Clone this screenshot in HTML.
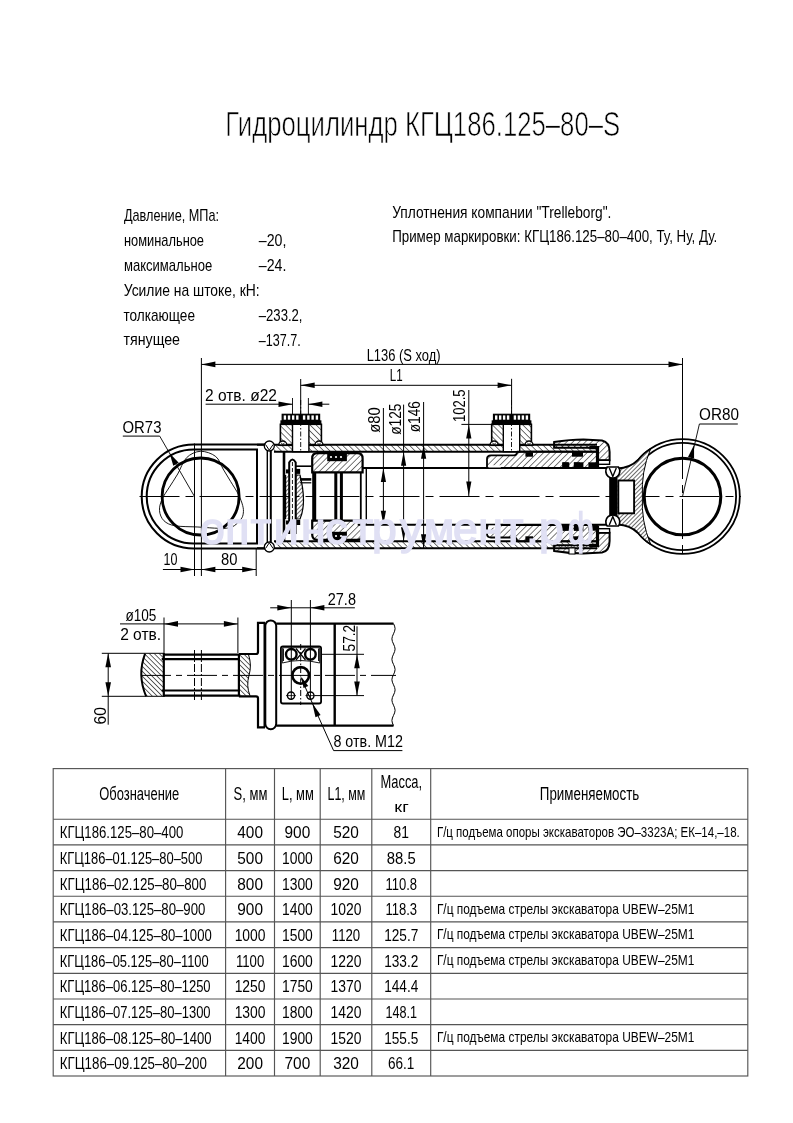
<!DOCTYPE html>
<html><head><meta charset="utf-8"><style>
html,body{margin:0;padding:0;background:#fff;}
svg{display:block;will-change:transform;}
text{font-family:"Liberation Sans", sans-serif;fill:#000;stroke:none;}
.wm text{fill:rgb(224,224,244);stroke:rgb(224,224,244);stroke-width:1.5px;}
</style></head><body>
<svg width="793" height="1123" viewBox="0 0 793 1123">
<g id="table">
<rect x="53.2" y="768.6" width="694.5999999999999" height="307.4" fill="none" stroke="#555" stroke-width="1.15"/>
<line x1="53.2" y1="819.2" x2="747.8" y2="819.2" stroke="#555" stroke-width="1.15"/>
<line x1="53.2" y1="844.9" x2="747.8" y2="844.9" stroke="#555" stroke-width="1.15"/>
<line x1="53.2" y1="870.6" x2="747.8" y2="870.6" stroke="#555" stroke-width="1.15"/>
<line x1="53.2" y1="896.2" x2="747.8" y2="896.2" stroke="#555" stroke-width="1.15"/>
<line x1="53.2" y1="921.9" x2="747.8" y2="921.9" stroke="#555" stroke-width="1.15"/>
<line x1="53.2" y1="947.6" x2="747.8" y2="947.6" stroke="#555" stroke-width="1.15"/>
<line x1="53.2" y1="973.3" x2="747.8" y2="973.3" stroke="#555" stroke-width="1.15"/>
<line x1="53.2" y1="999.0" x2="747.8" y2="999.0" stroke="#555" stroke-width="1.15"/>
<line x1="53.2" y1="1024.6" x2="747.8" y2="1024.6" stroke="#555" stroke-width="1.15"/>
<line x1="53.2" y1="1050.3" x2="747.8" y2="1050.3" stroke="#555" stroke-width="1.15"/>
<line x1="225.6" y1="768.6" x2="225.6" y2="1076.0" stroke="#555" stroke-width="1.15"/>
<line x1="274.5" y1="768.6" x2="274.5" y2="1076.0" stroke="#555" stroke-width="1.15"/>
<line x1="320.2" y1="768.6" x2="320.2" y2="1076.0" stroke="#555" stroke-width="1.15"/>
<line x1="371.8" y1="768.6" x2="371.8" y2="1076.0" stroke="#555" stroke-width="1.15"/>
<line x1="430.7" y1="768.6" x2="430.7" y2="1076.0" stroke="#555" stroke-width="1.15"/>
</g>
<g id="drawing">
<defs>
<pattern id="hb" patternUnits="userSpaceOnUse" width="4.3" height="4.3" patternTransform="rotate(-45)"><line x1="0" y1="0" x2="0" y2="4.3" stroke="#000" stroke-width="1.1"/></pattern>
<pattern id="hf" patternUnits="userSpaceOnUse" width="4.4" height="4.4" patternTransform="rotate(45)"><line x1="0" y1="0" x2="0" y2="4.4" stroke="#000" stroke-width="1.05"/></pattern>
<pattern id="hs" patternUnits="userSpaceOnUse" width="3" height="3" patternTransform="rotate(45)"><line x1="0" y1="0" x2="0" y2="3" stroke="#000" stroke-width="1.15"/></pattern>
<pattern id="hsb" patternUnits="userSpaceOnUse" width="3" height="3" patternTransform="rotate(-45)"><line x1="0" y1="0" x2="0" y2="3" stroke="#000" stroke-width="0.8"/></pattern>
<pattern id="hb5" patternUnits="userSpaceOnUse" width="3.5" height="3.5" patternTransform="rotate(-45)"><line x1="0" y1="0" x2="0" y2="3.5" stroke="#000" stroke-width="1.2"/></pattern>
</defs>
<line x1="139.5" y1="496.5" x2="741" y2="496.5" stroke="#000" stroke-width="1.0" stroke-dasharray="40,6,8,6"/>
<path d="M267,444.5 L193.7,444.5 A52,52 0 0 0 193.7,548.5 L267,548.5" fill="none" stroke="#000" stroke-width="2.0"/>
<path d="M257,449.5 L193.7,449.5 A47,47 0 0 0 193.7,543.5 L257,543.5 Z" fill="none" stroke="#000" stroke-width="2.0"/>
<circle cx="200.6" cy="496.5" r="38.5" fill="none" stroke="#000" stroke-width="2.8"/>
<path d="M200.4,451.3 C205.2,451.1 211.8,453.4 215.6,456.4 C219.4,459.3 220.6,464.8 223.1,469 C225.6,473.2 228.2,477.4 230.7,481.6 C233.2,485.8 236.3,490.2 238.3,494.2 C240.3,498.2 241.9,502.5 242.7,505.6 C243.5,508.8 243.6,510.8 243.3,513.1 C243.0,515.4 242.7,517.1 240.8,519.4 C238.9,521.7 235.6,525.5 232,527 C228.4,528.5 225.1,528.3 219.4,528.3 C213.7,528.3 205.3,527.4 197.9,527 C190.5,526.6 180.9,526.8 175.2,525.8 C169.5,524.8 166.5,523.2 163.9,520.7 C161.3,518.2 159.8,514.2 159.5,510.6 C159.2,507.0 160.4,503.1 162,499.3 C163.6,495.5 166.3,492.1 168.9,487.9 C171.5,483.7 174.8,479.0 177.7,474 C180.6,469.0 182.8,461.5 186.6,457.7 C190.4,453.9 195.6,451.5 200.4,451.3Z" fill="none" stroke="#000" stroke-width="0.9"/>
<line x1="194.5" y1="443.5" x2="194.5" y2="576" stroke="#000" stroke-width="1.0"/>
<line x1="201.4" y1="358" x2="201.4" y2="576" stroke="#000" stroke-width="1.0"/>
<line x1="122.8" y1="436.1" x2="159.7" y2="436.1" stroke="#000" stroke-width="1.0"/>
<line x1="159.7" y1="436.1" x2="194.5" y2="496.5" stroke="#000" stroke-width="0.9"/>
<path d="M169.5,453.0 L178.7,462.7 L173.3,465.8 Z" fill="#000"/>
<text x="122.54" y="433.3" font-size="16" textLength="38.9" lengthAdjust="spacingAndGlyphs">OR73</text>
<line x1="162.9" y1="569.5" x2="256" y2="569.5" stroke="#000" stroke-width="1.0"/>
<path d="M194.5,569.5 L180.5,572.3 L180.5,566.7 Z" fill="#000"/>
<path d="M201.4,569.5 L215.4,566.7 L215.4,572.3 Z" fill="#000"/>
<path d="M256.2,569.5 L242.2,572.3 L242.2,566.7 Z" fill="#000"/>
<line x1="256.2" y1="548" x2="256.2" y2="576" stroke="#000" stroke-width="1.0"/>
<text x="163.54" y="565.4" font-size="16" textLength="13.9" lengthAdjust="spacingAndGlyphs">10</text>
<text x="221.04" y="565.2" font-size="16" textLength="16.4" lengthAdjust="spacingAndGlyphs">80</text>
<rect x="274" y="444.7" width="323" height="7" fill="url(#hb)"/>
<rect x="274" y="541" width="323" height="7" fill="url(#hb)"/>
<line x1="257" y1="444.7" x2="597" y2="444.7" stroke="#000" stroke-width="2.0"/>
<line x1="274" y1="451.7" x2="597" y2="451.7" stroke="#000" stroke-width="2.0"/>
<line x1="274" y1="541.3" x2="597" y2="541.3" stroke="#000" stroke-width="2.0"/>
<line x1="257" y1="548.3" x2="597" y2="548.3" stroke="#000" stroke-width="2.0"/>
<line x1="267.3" y1="444.7" x2="267.3" y2="548.3" stroke="#000" stroke-width="1.4"/>
<line x1="270.8" y1="444.7" x2="270.8" y2="548.3" stroke="#000" stroke-width="2.0"/>
<line x1="284" y1="451.7" x2="284" y2="541.3" stroke="#000" stroke-width="2.6"/>
<circle cx="269.3" cy="446.0" r="5.0" fill="#fff" stroke="#000" stroke-width="1.3"/>
<path d="M265.5,444.5 L269.3,450.2 L273.1,444.5" fill="none" stroke="#000" stroke-width="1.0"/>
<circle cx="269.3" cy="547.0" r="5.0" fill="#fff" stroke="#000" stroke-width="1.3"/>
<path d="M265.5,548.5 L269.3,542.8 L273.1,548.5" fill="none" stroke="#000" stroke-width="1.0"/>
<rect x="280.4" y="424.3" width="41.0" height="21" fill="url(#hb)" stroke="#000" stroke-width="1.6"/>
<rect x="292.5" y="424.3" width="16.4" height="27.4" fill="#fff" stroke="#000" stroke-width="1.4"/>
<rect x="280.4" y="420.3" width="41.0" height="4.2" fill="#000" stroke="none" stroke-width="0"/>
<rect x="282.2" y="414.3" width="37.4" height="6.2" fill="#000" stroke="#000" stroke-width="1.2"/>
<rect x="283.7" y="415.4" width="2.4" height="4.3" fill="#fff" stroke="none" stroke-width="0"/>
<rect x="287.83" y="415.4" width="2.4" height="4.3" fill="#fff" stroke="none" stroke-width="0"/>
<rect x="291.97" y="415.4" width="2.4" height="4.3" fill="#fff" stroke="none" stroke-width="0"/>
<rect x="296.1" y="415.4" width="2.4" height="4.3" fill="#fff" stroke="none" stroke-width="0"/>
<rect x="302.9" y="415.4" width="2.4" height="4.3" fill="#fff" stroke="none" stroke-width="0"/>
<rect x="307.17" y="415.4" width="2.4" height="4.3" fill="#fff" stroke="none" stroke-width="0"/>
<rect x="311.43" y="415.4" width="2.4" height="4.3" fill="#fff" stroke="none" stroke-width="0"/>
<rect x="315.7" y="415.4" width="2.4" height="4.3" fill="#fff" stroke="none" stroke-width="0"/>
<line x1="300.7" y1="400" x2="300.7" y2="452" stroke="#000" stroke-width="0.9" stroke-dasharray="5,2,1.5,2"/>
<path d="M278.79999999999995,445 A4,4 0 0 1 286.79999999999995,445 Z" fill="#fff" stroke="#000" stroke-width="1.4"/>
<path d="M280.99999999999994,442.6 L282.79999999999995,444.6 L284.59999999999997,442.6" fill="none" stroke="#000" stroke-width="0.9"/>
<path d="M315.0,445 A4,4 0 0 1 323.0,445 Z" fill="#fff" stroke="#000" stroke-width="1.4"/>
<path d="M317.2,442.6 L319.0,444.6 L320.8,442.6" fill="none" stroke="#000" stroke-width="0.9"/>
<rect x="491.7" y="424.3" width="39.69999999999999" height="21" fill="url(#hb)" stroke="#000" stroke-width="1.6"/>
<rect x="503.3" y="424.3" width="16.4" height="27.4" fill="#fff" stroke="#000" stroke-width="1.4"/>
<rect x="491.7" y="420.3" width="39.69999999999999" height="4.2" fill="#000" stroke="none" stroke-width="0"/>
<rect x="493.5" y="414.3" width="36.09999999999999" height="6.2" fill="#000" stroke="#000" stroke-width="1.2"/>
<rect x="495.0" y="415.4" width="2.4" height="4.3" fill="#fff" stroke="none" stroke-width="0"/>
<rect x="498.97" y="415.4" width="2.4" height="4.3" fill="#fff" stroke="none" stroke-width="0"/>
<rect x="502.93" y="415.4" width="2.4" height="4.3" fill="#fff" stroke="none" stroke-width="0"/>
<rect x="506.9" y="415.4" width="2.4" height="4.3" fill="#fff" stroke="none" stroke-width="0"/>
<rect x="513.7" y="415.4" width="2.4" height="4.3" fill="#fff" stroke="none" stroke-width="0"/>
<rect x="517.7" y="415.4" width="2.4" height="4.3" fill="#fff" stroke="none" stroke-width="0"/>
<rect x="521.7" y="415.4" width="2.4" height="4.3" fill="#fff" stroke="none" stroke-width="0"/>
<rect x="525.7" y="415.4" width="2.4" height="4.3" fill="#fff" stroke="none" stroke-width="0"/>
<line x1="511.5" y1="400" x2="511.5" y2="452" stroke="#000" stroke-width="0.9" stroke-dasharray="5,2,1.5,2"/>
<path d="M490.09999999999997,445 A4,4 0 0 1 498.09999999999997,445 Z" fill="#fff" stroke="#000" stroke-width="1.4"/>
<path d="M492.29999999999995,442.6 L494.09999999999997,444.6 L495.9,442.6" fill="none" stroke="#000" stroke-width="0.9"/>
<path d="M525.0,445 A4,4 0 0 1 533.0,445 Z" fill="#fff" stroke="#000" stroke-width="1.4"/>
<path d="M527.2,442.6 L529.0,444.6 L530.8,442.6" fill="none" stroke="#000" stroke-width="0.9"/>
<path d="M312.2,472.3 L312.2,458.5 Q312.2,453.2 317.5,453.2 L357.3,453.2 Q362.6,453.2 362.6,458.5 L362.6,472.3 Z" fill="url(#hf)" stroke="#000" stroke-width="2.2"/>
<rect x="327.2" y="453.2" width="19.7" height="8.0" fill="#000" stroke="none" stroke-width="0"/>
<path d="M312.2,520.7 L312.2,534.5 Q312.2,539.8 317.5,539.8 L357.3,539.8 Q362.6,539.8 362.6,534.5 L362.6,520.7 Z" fill="url(#hf)" stroke="#000" stroke-width="2.2"/>
<rect x="327.2" y="531.8" width="19.7" height="8.0" fill="#000" stroke="none" stroke-width="0"/>
<circle cx="331" cy="457" r="1.1" fill="#fff" stroke="none" stroke-width="0"/>
<circle cx="336" cy="457" r="1.1" fill="#fff" stroke="none" stroke-width="0"/>
<circle cx="341" cy="457" r="1.1" fill="#fff" stroke="none" stroke-width="0"/>
<circle cx="331" cy="536" r="1.1" fill="#fff" stroke="none" stroke-width="0"/>
<circle cx="336" cy="536" r="1.1" fill="#fff" stroke="none" stroke-width="0"/>
<circle cx="341" cy="536" r="1.1" fill="#fff" stroke="none" stroke-width="0"/>
<line x1="314.2" y1="472" x2="314.2" y2="521" stroke="#000" stroke-width="4.0"/>
<line x1="335.8" y1="472" x2="335.8" y2="521" stroke="#000" stroke-width="3.0"/>
<line x1="341.4" y1="472" x2="341.4" y2="521" stroke="#000" stroke-width="3.0"/>
<line x1="360.8" y1="472" x2="360.8" y2="521" stroke="#000" stroke-width="1.8"/>
<line x1="366.3" y1="468" x2="366.3" y2="525" stroke="#000" stroke-width="1.4"/>
<line x1="362.6" y1="468.0" x2="609.3" y2="468.0" stroke="#000" stroke-width="2.0"/>
<line x1="357.7" y1="524.8" x2="609.3" y2="524.8" stroke="#000" stroke-width="2.0"/>
<path d="M289.2,534 L289.2,462.5 Q292.45,456.5 295.7,462.5 L295.7,534" fill="#fff" stroke="#000" stroke-width="2.0"/>
<line x1="292.45" y1="462" x2="292.45" y2="532" stroke="#000" stroke-width="0.9" stroke-dasharray="4,2"/>
<rect x="285.6" y="475" width="3.6" height="44" fill="url(#hs)"/>
<line x1="285.6" y1="475" x2="285.6" y2="519" stroke="#000" stroke-width="1.2"/>
<path d="M295.7,475 L300,475 Q307,503 300,519 L295.7,519 Z" fill="url(#hs)" stroke="#000" stroke-width="1.2"/>
<rect x="286" y="469.4" width="3.2" height="4" fill="#000" stroke="none" stroke-width="0"/>
<rect x="296" y="468.9" width="4.2" height="5" fill="#000" stroke="none" stroke-width="0"/>
<rect x="286" y="520.5" width="3.2" height="4" fill="#000" stroke="none" stroke-width="0"/>
<rect x="296" y="520.0" width="4.2" height="5" fill="#000" stroke="none" stroke-width="0"/>
<line x1="295.7" y1="466.2" x2="311.3" y2="466.2" stroke="#000" stroke-width="1.6"/>
<line x1="300" y1="479.4" x2="311.3" y2="479.4" stroke="#000" stroke-width="2.6"/>
<line x1="300" y1="482.8" x2="311.3" y2="482.8" stroke="#000" stroke-width="1.2"/>
<path d="M487,467.8 L487,459 Q487,455.3 491,455.3 L514,455.3 Q516.5,455.3 517.5,451.7 L597,451.7 L597,467.8 Z" fill="url(#hf)" stroke="#000" stroke-width="1.8"/>
<path d="M487,525 L487,533.8 Q487,537.5 491,537.5 L514,537.5 Q516.5,537.5 517.5,541.3 L597,541.3 L597,525 Z" fill="url(#hf)" stroke="#000" stroke-width="1.8"/>
<rect x="488.5" y="465.2" width="12.3" height="2.3" fill="#fff" stroke="none" stroke-width="0"/>
<rect x="488.5" y="525.3" width="12.3" height="2.3" fill="#fff" stroke="none" stroke-width="0"/>
<rect x="525.4" y="452.3" width="7.6" height="4.4" fill="#000" stroke="none" stroke-width="0"/>
<rect x="525.4" y="536.3000000000001" width="7.6" height="4.4" fill="#000" stroke="none" stroke-width="0"/>
<rect x="562.6" y="462.4" width="5.7" height="5.2" fill="#000" stroke="none" stroke-width="0"/>
<rect x="562.6" y="525.4" width="5.7" height="5.2" fill="#000" stroke="none" stroke-width="0"/>
<rect x="574" y="462.4" width="6" height="5.2" fill="#000" stroke="none" stroke-width="0"/>
<rect x="574" y="525.4" width="6" height="5.2" fill="#000" stroke="none" stroke-width="0"/>
<rect x="572" y="451.7" width="11" height="5" fill="#000" stroke="none" stroke-width="0"/>
<rect x="572" y="536.3" width="11" height="5" fill="#000" stroke="none" stroke-width="0"/>
<path d="M554.1,446.5 L554.1,442.1 Q570,439.6 583.4,439.6 L602,440.4 Q609.6,442.0 609.6,452.0 L609.6,460.3 L597.5,460.3 L597.5,447.7 L554.1,447.7 Z" fill="url(#hf)" stroke="#000" stroke-width="2.0"/>
<rect x="597.5" y="460.3" width="12.1" height="4" fill="#fff" stroke="#000" stroke-width="1.4"/>
<path d="M589.4,447.7 L597.5,447.7 L597.5,467.5" fill="none" stroke="#000" stroke-width="3.2"/>
<rect x="572.3" y="451.7" width="9.1" height="4.0" fill="#000" stroke="none" stroke-width="0"/>
<rect x="562.2" y="462.3" width="7.1" height="5.2" fill="#000" stroke="none" stroke-width="0"/>
<rect x="573.8" y="462.3" width="9.6" height="5.2" fill="#000" stroke="none" stroke-width="0"/>
<rect x="588.4" y="462.3" width="8.1" height="5.2" fill="#000" stroke="none" stroke-width="0"/>
<path d="M554.1,546.5 L554.1,550.9 Q570,553.4 583.4,553.4 L602,552.6 Q609.6,551.0 609.6,541.0 L609.6,532.7 L597.5,532.7 L597.5,545.3 L554.1,545.3 Z" fill="url(#hf)" stroke="#000" stroke-width="2.0"/>
<rect x="597.5" y="528.7" width="12.1" height="4" fill="#fff" stroke="#000" stroke-width="1.4"/>
<path d="M589.4,545.3 L597.5,545.3 L597.5,525.5" fill="none" stroke="#000" stroke-width="3.2"/>
<rect x="572.3" y="537.3" width="9.1" height="4.0" fill="#000" stroke="none" stroke-width="0"/>
<rect x="562.2" y="525.5" width="7.1" height="5.2" fill="#000" stroke="none" stroke-width="0"/>
<rect x="573.8" y="525.5" width="9.6" height="5.2" fill="#000" stroke="none" stroke-width="0"/>
<rect x="588.4" y="525.5" width="8.1" height="5.2" fill="#000" stroke="none" stroke-width="0"/>
<rect x="569" y="548" width="6" height="6" fill="#fff" stroke="#000" stroke-width="1.0"/>
<circle cx="682.5" cy="496.5" r="57.3" fill="none" stroke="#000" stroke-width="1.8"/>
<circle cx="682.5" cy="496.5" r="53.6" fill="none" stroke="#000" stroke-width="1.8"/>
<path d="M617.5,468.5 Q630,468 638,460 Q644,452.5 650.5,449 Q641,472 642.4,496.5 Q641,521 650.5,544 Q644,540.5 638,533 Q630,525 617.5,524.5 Z" fill="#fff" stroke="none" stroke-width="0"/>
<path d="M617.5,468.5 Q630,468 638,460 Q644,452.5 650.5,449 Q641,472 642.4,496.5 Q641,521 650.5,544 Q644,540.5 638,533 Q630,525 617.5,524.5 Z" fill="url(#hs)" stroke="none" stroke-width="0"/>
<path d="M617.5,468.5 Q630,468 638,460 Q644,452.5 650.5,449" fill="none" stroke="#000" stroke-width="1.8"/>
<path d="M617.5,524.5 Q630,525 638,533 Q644,540.5 650.5,544" fill="none" stroke="#000" stroke-width="1.8"/>
<path d="M650.5,449 Q641,472 642.4,496.5 Q641,521 650.5,544" fill="none" stroke="#000" stroke-width="1.0"/>
<rect x="609.2" y="475.6" width="8.2" height="40.7" fill="#000" stroke="none" stroke-width="0"/>
<rect x="618.3" y="480.5" width="15.8" height="32.8" fill="#fff" stroke="#000" stroke-width="1.9"/>
<circle cx="682.5" cy="496.5" r="38.3" fill="none" stroke="#000" stroke-width="3.0"/>
<line x1="682.5" y1="358" x2="682.5" y2="439" stroke="#000" stroke-width="1.0"/>
<line x1="682.5" y1="439" x2="682.5" y2="556" stroke="#000" stroke-width="1.0" stroke-dasharray="40,6,8,6"/>
<path d="M607.1999999999999,467.0 A7.0,7.0 0 1 0 618.4,467.0 Z" fill="#fff" stroke="#000" stroke-width="1.7"/>
<path d="M609.3,468.0 L612.8,476.45 L616.3,468.0" fill="none" stroke="#000" stroke-width="1.4"/>
<path d="M607.1999999999999,526.0 A7.0,7.0 0 1 1 618.4,526.0 Z" fill="#fff" stroke="#000" stroke-width="1.7"/>
<path d="M609.3,525.0 L612.8,516.55 L616.3,525.0" fill="none" stroke="#000" stroke-width="1.4"/>
<line x1="699.4" y1="424" x2="737.8" y2="424" stroke="#000" stroke-width="1.0"/>
<line x1="699.4" y1="424" x2="682.5" y2="496.5" stroke="#000" stroke-width="0.9"/>
<path d="M694.0,445.0 L694.1,458.4 L688.0,457.0 Z" fill="#000"/>
<text x="699.04" y="420.3" font-size="16" textLength="39.9" lengthAdjust="spacingAndGlyphs">OR80</text>
<line x1="201.4" y1="364.4" x2="682.5" y2="364.4" stroke="#000" stroke-width="1.0"/>
<path d="M201.4,364.4 L215.4,361.6 L215.4,367.2 Z" fill="#000"/>
<path d="M682.5,364.4 L668.5,367.2 L668.5,361.6 Z" fill="#000"/>
<text x="366.64" y="361.2" font-size="16" textLength="74.0" lengthAdjust="spacingAndGlyphs">L136 (S ход)</text>
<line x1="300.7" y1="379" x2="300.7" y2="414" stroke="#000" stroke-width="1.0"/>
<line x1="511.6" y1="378.8" x2="511.6" y2="414" stroke="#000" stroke-width="1.0"/>
<line x1="300.7" y1="385.3" x2="511.6" y2="385.3" stroke="#000" stroke-width="1.0"/>
<path d="M300.7,385.3 L314.7,382.5 L314.7,388.1 Z" fill="#000"/>
<path d="M511.6,385.3 L497.6,388.1 L497.6,382.5 Z" fill="#000"/>
<text x="389.84" y="381.4" font-size="16" textLength="12.9" lengthAdjust="spacingAndGlyphs">L1</text>
<line x1="205.6" y1="404.2" x2="292.5" y2="404.2" stroke="#000" stroke-width="1.0"/>
<path d="M292.5,404.2 L278.5,407.0 L278.5,401.4 Z" fill="#000"/>
<line x1="308.4" y1="404.2" x2="329.3" y2="404.2" stroke="#000" stroke-width="1.0"/>
<path d="M308.4,404.2 L322.4,401.4 L322.4,407.0 Z" fill="#000"/>
<line x1="292.5" y1="398" x2="292.5" y2="415" stroke="#000" stroke-width="0.9"/>
<line x1="308.4" y1="398" x2="308.4" y2="415" stroke="#000" stroke-width="0.9"/>
<text x="205.04" y="400.7" font-size="16" textLength="71.9" lengthAdjust="spacingAndGlyphs">2 отв. ø22</text>
<line x1="383.4" y1="408" x2="383.4" y2="524.8" stroke="#000" stroke-width="1.0"/>
<path d="M383.4,468.0 L386.0,482.0 L380.8,482.0 Z" fill="#000"/>
<path d="M383.4,524.8 L380.8,510.8 L386.0,510.8 Z" fill="#000"/>
<text x="380.2" y="432.76" font-size="16" textLength="25.6" lengthAdjust="spacingAndGlyphs" transform="rotate(-90 380.2 432.76)">ø80</text>
<line x1="403.6" y1="404.6" x2="403.6" y2="541.3" stroke="#000" stroke-width="1.0"/>
<path d="M403.6,451.7 L406.2,465.7 L401.0,465.7 Z" fill="#000"/>
<path d="M403.6,541.3 L401.0,527.3 L406.2,527.3 Z" fill="#000"/>
<text x="400.9" y="434.76" font-size="16" textLength="31.2" lengthAdjust="spacingAndGlyphs" transform="rotate(-90 400.9 434.76)">ø125</text>
<line x1="423.6" y1="402" x2="423.6" y2="548.3" stroke="#000" stroke-width="1.0"/>
<path d="M423.6,444.7 L426.2,458.7 L421.0,458.7 Z" fill="#000"/>
<path d="M423.6,548.3 L421.0,534.3 L426.2,534.3 Z" fill="#000"/>
<text x="420.5" y="432.26" font-size="16" textLength="31.1" lengthAdjust="spacingAndGlyphs" transform="rotate(-90 420.5 432.26)">ø146</text>
<line x1="468.8" y1="390" x2="468.8" y2="496.5" stroke="#000" stroke-width="1.0"/>
<line x1="461.4" y1="424.4" x2="491.7" y2="424.4" stroke="#000" stroke-width="1.0"/>
<path d="M468.8,424.4 L471.4,438.4 L466.2,438.4 Z" fill="#000"/>
<path d="M468.8,495.5 L466.2,481.5 L471.4,481.5 Z" fill="#000"/>
<text x="465.2" y="422.06" font-size="16" textLength="32.7" lengthAdjust="spacingAndGlyphs" transform="rotate(-90 465.2 422.06)">102.5</text>
<line x1="141" y1="675.4" x2="396" y2="675.4" stroke="#000" stroke-width="1.0" stroke-dasharray="30,5,6,5"/>
<path d="M145.1,653.6 L163.8,653.6 L163.8,696.3 L146.1,696.3 Q137,675 145.1,653.6 Z" fill="url(#hb5)"/>
<path d="M145.1,653.6 Q137,675 146.1,696.3" fill="none" stroke="#000" stroke-width="2.0"/>
<line x1="101.8" y1="653.3" x2="164" y2="653.3" stroke="#000" stroke-width="1.0"/>
<line x1="101.8" y1="696.3" x2="164" y2="696.3" stroke="#000" stroke-width="1.0"/>
<line x1="163.8" y1="653" x2="163.8" y2="696.8" stroke="#000" stroke-width="2.2"/>
<line x1="163.8" y1="654.6" x2="238.9" y2="654.6" stroke="#000" stroke-width="2.4"/>
<line x1="161.7" y1="659.2" x2="238.9" y2="659.2" stroke="#000" stroke-width="2.2"/>
<line x1="161.7" y1="690.5" x2="238.9" y2="690.5" stroke="#000" stroke-width="2.2"/>
<line x1="163.8" y1="695.6" x2="238.9" y2="695.6" stroke="#000" stroke-width="2.4"/>
<line x1="238.9" y1="654" x2="238.9" y2="696.3" stroke="#000" stroke-width="2.2"/>
<line x1="194.5" y1="650" x2="194.5" y2="700" stroke="#000" stroke-width="1.0" stroke-dasharray="8,2,2,2"/>
<line x1="201.4" y1="650" x2="201.4" y2="700" stroke="#000" stroke-width="1.0" stroke-dasharray="8,2,2,2"/>
<path d="M238.9,654.6 L248.5,654.6 Q252,665 249,675.4 Q246,686 250,695.7 L238.9,695.7 Z" fill="url(#hb5)"/>
<path d="M248.5,654.6 Q252,665 249,675.4 Q246,686 250,695.7" fill="none" stroke="#000" stroke-width="1.0"/>
<path d="M238.9,654 L256,654 Q258,654 258,652 L258,622.9 L265,622.9" fill="none" stroke="#000" stroke-width="2.2"/>
<path d="M238.9,696.3 L256,696.3 Q258,696.3 258,698.3 L258,727.3 L265,727.3" fill="none" stroke="#000" stroke-width="2.2"/>
<line x1="264.4" y1="622.9" x2="264.4" y2="727.3" stroke="#000" stroke-width="1.8"/>
<rect x="265.3" y="620.4" width="10.9" height="108.8" fill="none" stroke="#000" stroke-width="2.0" rx="5.4"/>
<line x1="276.2" y1="623.6" x2="393.5" y2="623.6" stroke="#000" stroke-width="2.2"/>
<line x1="276.2" y1="725.6" x2="393.5" y2="725.6" stroke="#000" stroke-width="2.2"/>
<line x1="334.7" y1="623.6" x2="334.7" y2="725.6" stroke="#000" stroke-width="2.4"/>
<path d="M393.5,623.6 L394.6,626.1 L395.1,628.7 L394.6,631.2 L393.5,633.8 L392.4,636.4 L391.9,638.9 L392.4,641.5 L393.5,644.0 L394.6,646.6 L395.1,649.1 L394.6,651.6 L393.5,654.2 L392.4,656.8 L391.9,659.3 L392.4,661.9 L393.5,664.4 L394.6,667.0 L395.1,669.5 L394.6,672.1 L393.5,674.6 L392.4,677.1 L391.9,679.7 L392.4,682.2 L393.5,684.8 L394.6,687.4 L395.1,689.9 L394.6,692.5 L393.5,695.0 L392.4,697.5 L391.9,700.1 L392.4,702.6 L393.5,705.2 L394.6,707.8 L395.1,710.3 L394.6,712.9 L393.5,715.4 L392.4,718.0 L391.9,720.5 L392.4,723.0 L393.5,725.6" fill="none" stroke="#000" stroke-width="1.0"/>
<rect x="280.9" y="646.3" width="40.2" height="57.2" fill="none" stroke="#000" stroke-width="1.8" rx="2"/>
<path d="M282.3,663 L282.3,647.7 L319.7,647.7 L319.7,663 Q300,658 282.3,663" fill="none" stroke="#000" stroke-width="0.9"/>
<circle cx="291.3" cy="654.3" r="5.3" fill="none" stroke="#000" stroke-width="2.4"/>
<circle cx="310.4" cy="654.3" r="5.3" fill="none" stroke="#000" stroke-width="2.4"/>
<path d="M283.3,648.5 L283.3,661 M318.7,648.5 L318.7,661 M296,648.5 L305.5,660 M305.5,648.5 L296,660" fill="none" stroke="#000" stroke-width="1.2"/>
<circle cx="300.7" cy="675.4" r="8.3" fill="none" stroke="#000" stroke-width="2.6"/>
<circle cx="291" cy="695.6" r="3.6" fill="none" stroke="#000" stroke-width="1.4"/>
<circle cx="310.4" cy="695.6" r="3.6" fill="none" stroke="#000" stroke-width="1.4"/>
<line x1="286" y1="695.6" x2="296" y2="695.6" stroke="#000" stroke-width="0.8"/>
<line x1="305.4" y1="695.6" x2="315.4" y2="695.6" stroke="#000" stroke-width="0.8"/>
<line x1="291.3" y1="600" x2="291.3" y2="700" stroke="#000" stroke-width="1.0"/>
<line x1="310.4" y1="600" x2="310.4" y2="700" stroke="#000" stroke-width="1.0"/>
<line x1="300.7" y1="644" x2="300.7" y2="705" stroke="#000" stroke-width="1.0" stroke-dasharray="6,2,1.5,2"/>
<line x1="120" y1="623.9" x2="164" y2="623.9" stroke="#000" stroke-width="1.0"/>
<line x1="164" y1="623.9" x2="237.9" y2="623.9" stroke="#000" stroke-width="1.0"/>
<path d="M164.0,623.9 L178.0,621.1 L178.0,626.7 Z" fill="#000"/>
<path d="M237.9,623.9 L223.9,626.7 L223.9,621.1 Z" fill="#000"/>
<line x1="164" y1="617.5" x2="164" y2="653" stroke="#000" stroke-width="1.0"/>
<line x1="237.9" y1="617.5" x2="237.9" y2="653" stroke="#000" stroke-width="1.0"/>
<text x="125.44" y="621.2" font-size="16" textLength="30.9" lengthAdjust="spacingAndGlyphs">ø105</text>
<text x="120.14" y="640.4" font-size="16" textLength="41.0" lengthAdjust="spacingAndGlyphs">2 отв.</text>
<line x1="108.2" y1="653.3" x2="108.2" y2="724.7" stroke="#000" stroke-width="1.0"/>
<path d="M108.2,653.3 L111.0,667.3 L105.4,667.3 Z" fill="#000"/>
<path d="M108.2,696.3 L105.4,682.3 L111.0,682.3 Z" fill="#000"/>
<text x="106" y="724.56" font-size="16" textLength="17.4" lengthAdjust="spacingAndGlyphs" transform="rotate(-90 106 724.56)">60</text>
<line x1="270.2" y1="607.8" x2="354.9" y2="607.8" stroke="#000" stroke-width="1.0"/>
<path d="M291.3,607.8 L277.3,610.6 L277.3,605.0 Z" fill="#000"/>
<path d="M310.4,607.8 L324.4,605.0 L324.4,610.6 Z" fill="#000"/>
<text x="327.74" y="604.5" font-size="16" textLength="28.2" lengthAdjust="spacingAndGlyphs">27.8</text>
<line x1="321.1" y1="654.3" x2="364" y2="654.3" stroke="#000" stroke-width="1.0"/>
<line x1="315" y1="695.6" x2="364" y2="695.6" stroke="#000" stroke-width="1.0"/>
<line x1="357" y1="626.3" x2="357" y2="695.6" stroke="#000" stroke-width="1.0"/>
<path d="M357.0,654.3 L359.8,668.3 L354.2,668.3 Z" fill="#000"/>
<path d="M357.0,695.6 L354.2,681.6 L359.8,681.6 Z" fill="#000"/>
<text x="355" y="651.46" font-size="16" textLength="26.6" lengthAdjust="spacingAndGlyphs" transform="rotate(-90 355 651.46)">57.2</text>
<line x1="333.6" y1="750.6" x2="300.9" y2="677.5" stroke="#000" stroke-width="1.0"/>
<line x1="333.6" y1="750.6" x2="402.4" y2="750.6" stroke="#000" stroke-width="1.0"/>
<path d="M312.3,703.3 L320.6,714.9 L315.5,717.2 Z" fill="#000"/>
<path d="M301.4,677.0 L308.3,686.0 L303.5,688.1 Z" fill="#000"/>
<text x="333.44" y="746.5" font-size="16" textLength="69.5" lengthAdjust="spacingAndGlyphs">8 отв. М12</text>
</g>
<g id="texts">
<text x="225.37" y="135.5" font-size="35.5" textLength="394.82" lengthAdjust="spacingAndGlyphs" style="stroke:#fff;stroke-width:0.7px">Гидроцилиндр КГЦ186.125–80–S</text>
<text x="123.98" y="221" font-size="17" textLength="95.05" lengthAdjust="spacingAndGlyphs">Давление, МПа:</text>
<text x="123.98" y="246.2" font-size="17" textLength="80.05" lengthAdjust="spacingAndGlyphs">номинальное</text>
<text x="123.98" y="270.7" font-size="17" textLength="88.25" lengthAdjust="spacingAndGlyphs">максимальное</text>
<text x="123.78" y="295.6" font-size="17" textLength="135.95" lengthAdjust="spacingAndGlyphs">Усилие на штоке, кН:</text>
<text x="123.48" y="320.8" font-size="17" textLength="71.55" lengthAdjust="spacingAndGlyphs">толкающее</text>
<text x="123.48" y="345.3" font-size="17" textLength="56.55" lengthAdjust="spacingAndGlyphs">тянущее</text>
<text x="258.78" y="245.9" font-size="17" textLength="27.55" lengthAdjust="spacingAndGlyphs">–20,</text>
<text x="258.78" y="270.8" font-size="17" textLength="27.55" lengthAdjust="spacingAndGlyphs">–24.</text>
<text x="258.78" y="320.9" font-size="17" textLength="43.75" lengthAdjust="spacingAndGlyphs">–233.2,</text>
<text x="258.78" y="345.5" font-size="17" textLength="41.95" lengthAdjust="spacingAndGlyphs">–137.7.</text>
<text x="392.18" y="217.7" font-size="17" textLength="219.25" lengthAdjust="spacingAndGlyphs">Уплотнения компании "Trelleborg".</text>
<text x="392.18" y="242.4" font-size="17" textLength="325.15" lengthAdjust="spacingAndGlyphs">Пример маркировки: КГЦ186.125–80–400, Ту, Ну, Ду.</text>
<text x="99.22" y="800" font-size="18" textLength="80.0" lengthAdjust="spacingAndGlyphs">Обозначение</text>
<text x="233.52" y="800.3" font-size="18" textLength="33.9" lengthAdjust="spacingAndGlyphs">S, мм</text>
<text x="281.82" y="800.3" font-size="18" textLength="32.0" lengthAdjust="spacingAndGlyphs">L, мм</text>
<text x="327.52" y="800.3" font-size="18" textLength="37.9" lengthAdjust="spacingAndGlyphs">L1, мм</text>
<text x="380.42" y="787.7" font-size="18" textLength="41.7" lengthAdjust="spacingAndGlyphs">Масса,</text>
<text x="394.33" y="812.3" font-size="14.5" textLength="14.38" lengthAdjust="spacingAndGlyphs">кг</text>
<text x="539.82" y="800" font-size="18" textLength="99.5" lengthAdjust="spacingAndGlyphs">Применяемость</text>
<text x="59.8" y="838.3" font-size="16.7" textLength="123.5" lengthAdjust="spacingAndGlyphs">КГЦ186.125–80–400</text>
<text x="250.1" y="838.3" font-size="16.7" textLength="25.7" lengthAdjust="spacingAndGlyphs" text-anchor="middle">400</text>
<text x="297.4" y="838.3" font-size="16.7" textLength="25.7" lengthAdjust="spacingAndGlyphs" text-anchor="middle">900</text>
<text x="346.0" y="838.3" font-size="16.7" textLength="25.7" lengthAdjust="spacingAndGlyphs" text-anchor="middle">520</text>
<text x="401.2" y="838.3" font-size="16.7" textLength="15.41" lengthAdjust="spacingAndGlyphs" text-anchor="middle">81</text>
<text x="436.9" y="836.7" font-size="15" textLength="302.85" lengthAdjust="spacingAndGlyphs">Г/ц подъема опоры экскаваторов ЭО–3323А; ЕК–14,–18.</text>
<text x="59.8" y="864.0" font-size="16.7" textLength="142.6" lengthAdjust="spacingAndGlyphs">КГЦ186–01.125–80–500</text>
<text x="250.1" y="864.0" font-size="16.7" textLength="25.7" lengthAdjust="spacingAndGlyphs" text-anchor="middle">500</text>
<text x="297.4" y="864.0" font-size="16.7" textLength="30.9" lengthAdjust="spacingAndGlyphs" text-anchor="middle">1000</text>
<text x="346.0" y="864.0" font-size="16.7" textLength="25.7" lengthAdjust="spacingAndGlyphs" text-anchor="middle">620</text>
<text x="401.2" y="864.0" font-size="16.7" textLength="28.9" lengthAdjust="spacingAndGlyphs" text-anchor="middle">88.5</text>
<text x="59.8" y="889.6" font-size="16.7" textLength="146.5" lengthAdjust="spacingAndGlyphs">КГЦ186–02.125–80–800</text>
<text x="250.1" y="889.6" font-size="16.7" textLength="25.7" lengthAdjust="spacingAndGlyphs" text-anchor="middle">800</text>
<text x="297.4" y="889.6" font-size="16.7" textLength="30.9" lengthAdjust="spacingAndGlyphs" text-anchor="middle">1300</text>
<text x="346.0" y="889.6" font-size="16.7" textLength="25.7" lengthAdjust="spacingAndGlyphs" text-anchor="middle">920</text>
<text x="401.2" y="889.6" font-size="16.7" textLength="31.61" lengthAdjust="spacingAndGlyphs" text-anchor="middle">110.8</text>
<text x="59.8" y="915.3" font-size="16.7" textLength="145.5" lengthAdjust="spacingAndGlyphs">КГЦ186–03.125–80–900</text>
<text x="250.1" y="915.3" font-size="16.7" textLength="25.7" lengthAdjust="spacingAndGlyphs" text-anchor="middle">900</text>
<text x="297.4" y="915.3" font-size="16.7" textLength="30.9" lengthAdjust="spacingAndGlyphs" text-anchor="middle">1400</text>
<text x="346.0" y="915.3" font-size="16.7" textLength="30.9" lengthAdjust="spacingAndGlyphs" text-anchor="middle">1020</text>
<text x="401.2" y="915.3" font-size="16.7" textLength="31.61" lengthAdjust="spacingAndGlyphs" text-anchor="middle">118.3</text>
<text x="436.9" y="913.7" font-size="15" textLength="257.45" lengthAdjust="spacingAndGlyphs">Г/ц подъема стрелы экскаватора UBEW–25M1</text>
<text x="59.8" y="941.0" font-size="16.7" textLength="151.91" lengthAdjust="spacingAndGlyphs">КГЦ186–04.125–80–1000</text>
<text x="250.1" y="941.0" font-size="16.7" textLength="30.9" lengthAdjust="spacingAndGlyphs" text-anchor="middle">1000</text>
<text x="297.4" y="941.0" font-size="16.7" textLength="30.9" lengthAdjust="spacingAndGlyphs" text-anchor="middle">1500</text>
<text x="346.0" y="941.0" font-size="16.7" textLength="28.4" lengthAdjust="spacingAndGlyphs" text-anchor="middle">1120</text>
<text x="401.2" y="941.0" font-size="16.7" textLength="34.11" lengthAdjust="spacingAndGlyphs" text-anchor="middle">125.7</text>
<text x="436.9" y="939.4" font-size="15" textLength="257.45" lengthAdjust="spacingAndGlyphs">Г/ц подъема стрелы экскаватора UBEW–25M1</text>
<text x="59.8" y="966.7" font-size="16.7" textLength="148.91" lengthAdjust="spacingAndGlyphs">КГЦ186–05.125–80–1100</text>
<text x="250.1" y="966.7" font-size="16.7" textLength="28.4" lengthAdjust="spacingAndGlyphs" text-anchor="middle">1100</text>
<text x="297.4" y="966.7" font-size="16.7" textLength="30.9" lengthAdjust="spacingAndGlyphs" text-anchor="middle">1600</text>
<text x="346.0" y="966.7" font-size="16.7" textLength="30.9" lengthAdjust="spacingAndGlyphs" text-anchor="middle">1220</text>
<text x="401.2" y="966.7" font-size="16.7" textLength="34.11" lengthAdjust="spacingAndGlyphs" text-anchor="middle">133.2</text>
<text x="436.9" y="965.1" font-size="15" textLength="257.45" lengthAdjust="spacingAndGlyphs">Г/ц подъема стрелы экскаватора UBEW–25M1</text>
<text x="59.8" y="992.4" font-size="16.7" textLength="150.81" lengthAdjust="spacingAndGlyphs">КГЦ186–06.125–80–1250</text>
<text x="250.1" y="992.4" font-size="16.7" textLength="30.9" lengthAdjust="spacingAndGlyphs" text-anchor="middle">1250</text>
<text x="297.4" y="992.4" font-size="16.7" textLength="30.9" lengthAdjust="spacingAndGlyphs" text-anchor="middle">1750</text>
<text x="346.0" y="992.4" font-size="16.7" textLength="30.9" lengthAdjust="spacingAndGlyphs" text-anchor="middle">1370</text>
<text x="401.2" y="992.4" font-size="16.7" textLength="34.11" lengthAdjust="spacingAndGlyphs" text-anchor="middle">144.4</text>
<text x="59.8" y="1018.0" font-size="16.7" textLength="150.81" lengthAdjust="spacingAndGlyphs">КГЦ186–07.125–80–1300</text>
<text x="250.1" y="1018.0" font-size="16.7" textLength="30.9" lengthAdjust="spacingAndGlyphs" text-anchor="middle">1300</text>
<text x="297.4" y="1018.0" font-size="16.7" textLength="30.9" lengthAdjust="spacingAndGlyphs" text-anchor="middle">1800</text>
<text x="346.0" y="1018.0" font-size="16.7" textLength="30.9" lengthAdjust="spacingAndGlyphs" text-anchor="middle">1420</text>
<text x="401.2" y="1018.0" font-size="16.7" textLength="31.61" lengthAdjust="spacingAndGlyphs" text-anchor="middle">148.1</text>
<text x="59.8" y="1043.7" font-size="16.7" textLength="151.81" lengthAdjust="spacingAndGlyphs">КГЦ186–08.125–80–1400</text>
<text x="250.1" y="1043.7" font-size="16.7" textLength="30.9" lengthAdjust="spacingAndGlyphs" text-anchor="middle">1400</text>
<text x="297.4" y="1043.7" font-size="16.7" textLength="30.9" lengthAdjust="spacingAndGlyphs" text-anchor="middle">1900</text>
<text x="346.0" y="1043.7" font-size="16.7" textLength="30.9" lengthAdjust="spacingAndGlyphs" text-anchor="middle">1520</text>
<text x="401.2" y="1043.7" font-size="16.7" textLength="34.11" lengthAdjust="spacingAndGlyphs" text-anchor="middle">155.5</text>
<text x="436.9" y="1042.1" font-size="15" textLength="257.45" lengthAdjust="spacingAndGlyphs">Г/ц подъема стрелы экскаватора UBEW–25M1</text>
<text x="59.8" y="1069.4" font-size="16.7" textLength="147.0" lengthAdjust="spacingAndGlyphs">КГЦ186–09.125–80–200</text>
<text x="250.1" y="1069.4" font-size="16.7" textLength="25.7" lengthAdjust="spacingAndGlyphs" text-anchor="middle">200</text>
<text x="297.4" y="1069.4" font-size="16.7" textLength="25.7" lengthAdjust="spacingAndGlyphs" text-anchor="middle">700</text>
<text x="346.0" y="1069.4" font-size="16.7" textLength="25.7" lengthAdjust="spacingAndGlyphs" text-anchor="middle">320</text>
<text x="401.2" y="1069.4" font-size="16.7" textLength="26.4" lengthAdjust="spacingAndGlyphs" text-anchor="middle">66.1</text>
</g>
<g class="wm"><text x="199.9" y="543.5" font-size="44.5">о</text><text x="225.3" y="543.5" font-size="44.5">п</text><text x="250.8" y="543.5" font-size="44.5">т</text><text x="273.8" y="543.5" font-size="44.5">и</text><text x="301.1" y="543.5" font-size="44.5">н</text><text x="325.2" y="543.5" font-size="44.5">с</text><text x="352.8" y="543.5" font-size="44.5">т</text><text x="372.1" y="543.5" font-size="44.5">р</text><text x="400.2" y="543.5" font-size="44.5">у</text><text x="423.8" y="543.5" font-size="44.5">м</text><text x="453.1" y="543.5" font-size="44.5">е</text><text x="478.2" y="543.5" font-size="44.5">н</text><text x="503.1" y="543.5" font-size="44.5">т</text><text x="526.2" y="543.5" font-size="44.5">.</text><text x="539.0" y="543.5" font-size="44.5">р</text><text x="568.1" y="543.5" font-size="44.5" textLength="25.5" lengthAdjust="spacingAndGlyphs">ф</text></g>
</svg>
</body></html>
